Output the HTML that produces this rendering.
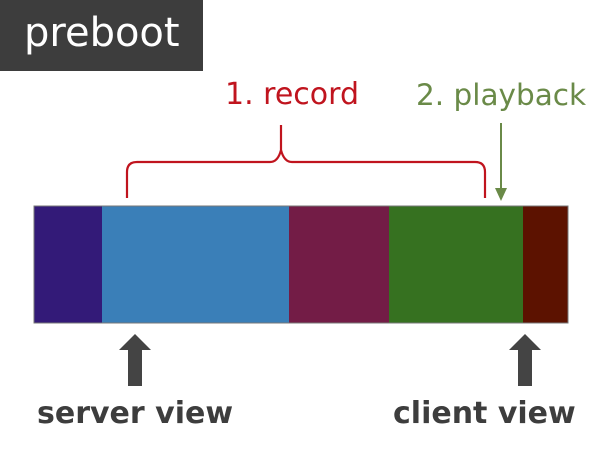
<!DOCTYPE html>
<html><head><style>
body{margin:0;width:602px;height:452px;background:#fff;position:relative;overflow:hidden;font-family:"DejaVu Sans","Liberation Sans",sans-serif}
.t{position:absolute;white-space:nowrap}
</style></head><body>
<div style="position:absolute;left:0;top:0;width:203px;height:71px;background:#3d3d3d"></div>
<div class="t" style="left:24px;top:9px;font-size:40px;color:#fff;line-height:48px">preboot</div>
<div class="t" style="left:225px;top:77px;font-size:30px;color:#c0141e;line-height:36px">1. record</div>
<div class="t" style="left:416px;top:77px;font-size:29.5px;color:#6a8a48;line-height:36px">2. playback</div>
<svg width="602" height="452" style="position:absolute;left:0;top:0">
<path d="M127,198 L127,172 Q127,162 137,162 L270,162 Q278,162 281,150 L281,125 L281,150 Q284,162 292,162 L475,162 Q485,162 485,172 L485,198" fill="none" stroke="#c0141e" stroke-width="2.2"/>
<rect x="34" y="206" width="68" height="117" fill="#331a78"/>
<rect x="102" y="206" width="187" height="117" fill="#3a7fb8"/>
<rect x="289" y="206" width="100" height="117" fill="#731c46"/>
<rect x="389" y="206" width="134" height="117" fill="#367120"/>
<rect x="523" y="206" width="45" height="117" fill="#5c1200"/>
<rect x="34" y="206" width="534" height="117" fill="none" stroke="#777" stroke-width="1"/>
<line x1="501" y1="123" x2="501" y2="190" stroke="#6a8a48" stroke-width="2"/>
<path d="M495,188 L507,188 L501,201 Z" fill="#6a8a48"/>
<path d="M128,386 L142,386 L142,350 L151,350 L135,334 L119,350 L128,350 Z" fill="#444"/>
<path d="M518,386 L532,386 L532,350 L541,350 L525,334 L509,350 L518,350 Z" fill="#444"/>
</svg>
<div class="t" style="left:37px;top:396px;font-size:30px;font-weight:bold;color:#3d3d3d;line-height:36px">server view</div>
<div class="t" style="left:393px;top:396px;font-size:30px;font-weight:bold;color:#3d3d3d;line-height:36px">client view</div>
</body></html>
